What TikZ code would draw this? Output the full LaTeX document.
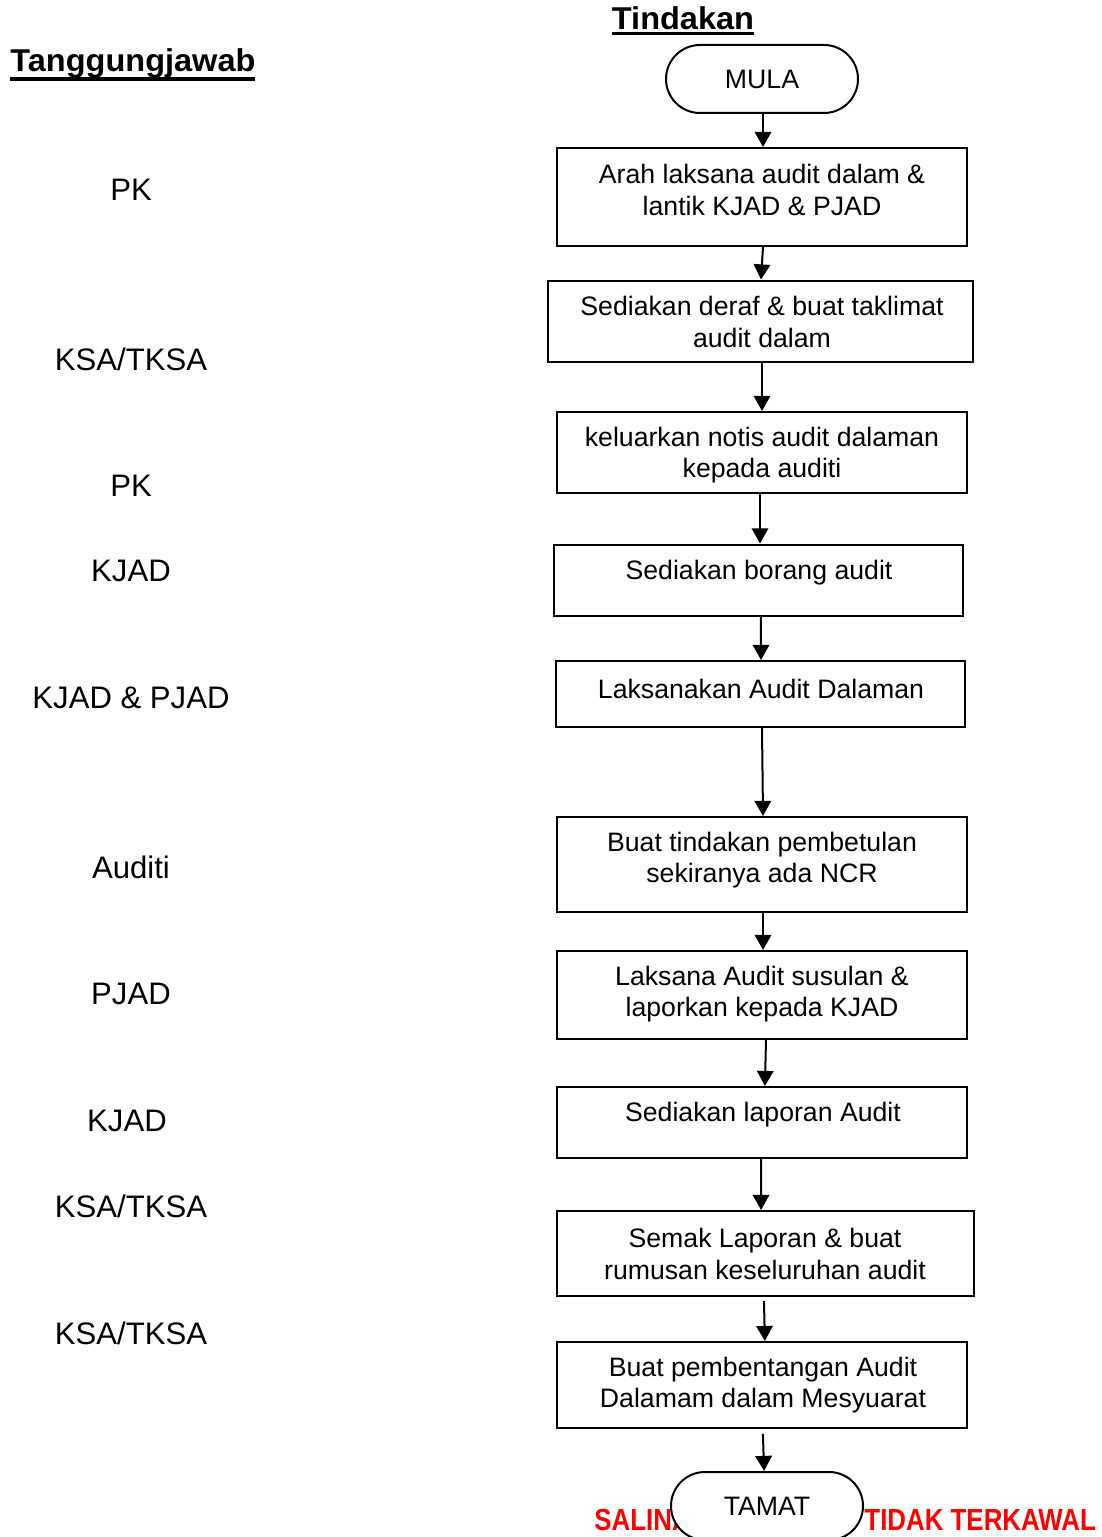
\documentclass[tikz,border=0pt]{standalone}
\usepackage{fontspec}
\setmainfont{Liberation Sans}
\newfontfamily\narrowfont{Liberation Sans}[FakeStretch=0.85]
\newfontfamily\headfont{Liberation Sans}[FakeStretch=1.03]
\usetikzlibrary{arrows.meta}
\newcommand\myul[3]{\setbox0\hbox{#3}\rlap{\vrule height -#1 depth #2 width \wd0}\box0}
\begin{document}
\begin{tikzpicture}[x=0.45pt,y=-0.45pt,
  box/.style 2 args={draw, line width=0.9pt, minimum width=#1*0.45pt, minimum height=#2*0.45pt, inner sep=0pt},
  txt/.style={font=\fontsize{12}{14.2}\selectfont, align=center, inner sep=0pt},
  lbl/.style={font=\fontsize{14}{16.8}\selectfont, inner sep=0pt},
  head/.style={font=\fontsize{14.2}{17}\headfont\bfseries, inner sep=0pt},
  term/.style={draw, line width=0.9pt, rounded corners=15.3pt, minimum width=86.4pt, minimum height=30.6pt, inner sep=0pt, fill=white, font=\fontsize{12}{14.2}\selectfont},
  arr/.style={line width=0.9pt, -{Triangle[length=6.8pt,width=7.4pt]}},
  warn/.style={font=\fontsize{13.7}{16}\narrowfont\bfseries, text=red, inner sep=0pt}]
\useasboundingbox (0,0) rectangle (1102,1537);
\clip (0,0) rectangle (1102,1537);

% headings
\node[head, anchor=base west] (h1) at (10,72) {\myul{2.3pt}{3.9pt}{Tanggungjawab}};
\node[head, anchor=base] (h2) at (683,29.5) {\myul{1.3pt}{2.7pt}{Tindakan}};

% left labels
\node[lbl] (l1) at (131,190) {PK};
\node[lbl] (l2) at (131,359) {KSA/TKSA};
\node[lbl] (l3) at (131,486) {PK};
\node[lbl] (l4) at (131,571) {KJAD};
\node[lbl] (l5) at (131,698) {KJAD \& PJAD};
\node[lbl] (l6) at (131,867) {Auditi};
\node[lbl] (l7) at (131,994) {PJAD};
\node[lbl] (l8) at (127,1121) {KJAD};
\node[lbl] (l9) at (131,1206) {KSA/TKSA};
\node[lbl] (l10) at (131,1333) {KSA/TKSA};

% red footer text
\node[warn, anchor=base west] (w1) at (594,1530) {SALINAN};
\node[warn, anchor=base west] (w2) at (864,1530) {TIDAK TERKAWAL};

% start
\node[term] (mula) at (762,79) {MULA};

% boxes
\node[box={410}{98}] (b1) at (762,197) {};
\node[txt] (t1) at (762,190) {Arah laksana audit dalam \&\\lantik KJAD \& PJAD};
\node[box={425}{81}] (b2) at (760.5,321) {};
\node[txt] (t2) at (762,322) {Sediakan deraf \& buat taklimat\\audit dalam};
\node[box={410}{81}] (b3) at (762,452.5) {};
\node[txt] (t3) at (762,455) {keluarkan notis audit dalaman\\kepada auditi};
\node[box={409}{71}] (b4) at (758.5,580) {};
\node[txt] (t4) at (759,573) {Sediakan borang audit};
\node[box={409}{66}] (b5) at (760.5,694) {};
\node[txt] (t5) at (761,689) {Laksanakan Audit Dalaman};
\node[box={410}{95}] (b6) at (762,864.5) {};
\node[txt] (t6) at (762,860) {Buat tindakan pembetulan\\sekiranya ada NCR};
\node[box={410}{88}] (b7) at (762,995) {};
\node[txt] (t7) at (762,994) {Laksana Audit susulan \&\\laporkan kepada KJAD};
\node[box={410}{71}] (b8) at (762,1122.5) {};
\node[txt] (t8) at (763,1115) {Sediakan laporan Audit};
\node[box={417}{85}] (b9) at (765.5,1253.5) {};
\node[txt] (t9) at (765,1254) {Semak Laporan \& buat\\rumusan keseluruhan audit};
\node[box={410}{86}] (b10) at (762,1385) {};
\node[txt] (t10) at (763,1385) {Buat pembentangan Audit\\Dalamam dalam Mesyuarat};

% end
\node[term] (tamat) at (767,1506) {TAMAT};

% connectors
\draw[arr] ([xshift=0.45pt]mula.south) -- ([xshift=0.45pt]b1.north);
\draw[arr] ([xshift=0.45pt]b1.south) -- ([xshift=0.225pt]b2.north);
\draw[arr] ([xshift=0.675pt]b2.south) -- (b3.north);
\draw[arr] ([xshift=-0.9pt]b3.south) -- ([xshift=0.675pt]b4.north);
\draw[arr] ([xshift=1.1pt]b4.south) -- ([xshift=0.225pt]b5.north);
\draw[arr] ([xshift=0.675pt]b5.south) -- ([xshift=0.45pt]b6.north);
\draw[arr] ([xshift=0.45pt]b6.south) -- ([xshift=0.45pt]b7.north);
\draw[arr] ([xshift=1.8pt]b7.south) -- ([xshift=1.3pt]b8.north);
\draw[arr] ([xshift=-0.45pt]b8.south) -- ([xshift=-2pt]b9.north);
\draw[arr] ([xshift=-0.7pt,yshift=-1.8pt]b9.south) -- ([xshift=1.3pt]b10.north);
\draw[arr] ([xshift=0.4pt,yshift=-2.2pt]b10.south) -- ([xshift=-1.3pt]tamat.north);
\end{tikzpicture}
\end{document}
